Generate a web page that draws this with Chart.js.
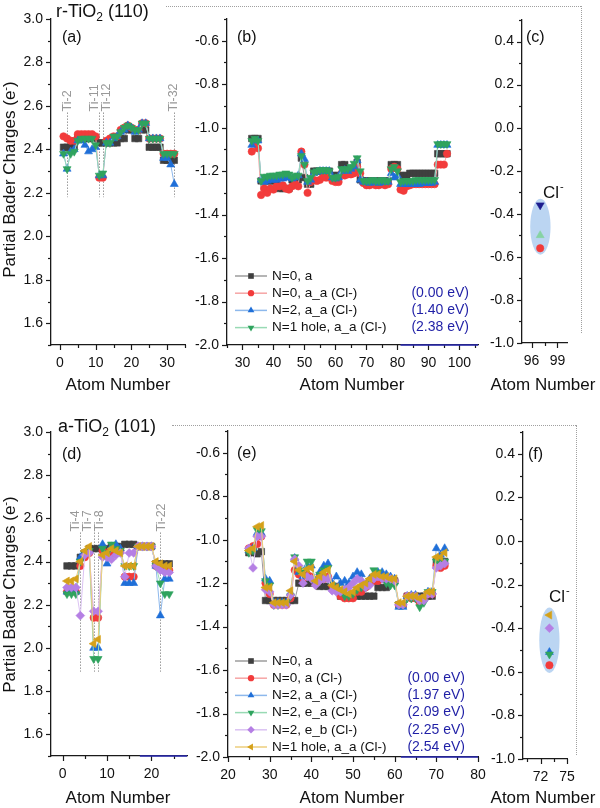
<!DOCTYPE html>
<html>
<head>
<meta charset="utf-8">
<script src="https://cdn.jsdelivr.net/npm/chart.js@4.4.1/dist/chart.umd.min.js"></script>
<style>
html,body{margin:0;padding:0;background:#fff;}
#page{position:relative;width:600px;height:808px;overflow:hidden;font-family:"Liberation Sans",Arial,Helvetica,sans-serif;color:#111;}
canvas.layer{position:absolute;left:0;top:0;}
.t{position:absolute;white-space:nowrap;line-height:1;}
.title{font-size:18px;}
.title sub{font-size:12px;vertical-align:-4px;line-height:0;}
.plab{font-size:16px;}
.xt{font-size:17px;width:160px;text-align:center;}
.yt{font-size:17px;width:280px;text-align:center;transform:rotate(-90deg);}
.yt sup{font-size:11px;vertical-align:6px;line-height:0;}
.hd{position:absolute;border-top:1px dotted #a0a0a0;height:0;}
.vd{position:absolute;border-left:1px dotted #a0a0a0;width:0;}
</style>
</head>
<body>
<div id="page">
<canvas class="layer" id="cA" width="600" height="808"></canvas>
<canvas class="layer" id="cB" width="600" height="808"></canvas>
<canvas class="layer" id="cC" width="600" height="808"></canvas>
<canvas class="layer" id="cD" width="600" height="808"></canvas>
<canvas class="layer" id="cE" width="600" height="808"></canvas>
<canvas class="layer" id="cF" width="600" height="808"></canvas>
<div class="t title" style="left:56px;top:2px;">r-TiO<sub>2</sub> (110)</div>
<div class="t title" style="left:58px;top:417px;">a-TiO<sub>2</sub> (101)</div>
<div class="hd" style="left:166px;top:6px;width:415px;"></div>
<div class="vd" style="left:581px;top:6px;height:327px;"></div>
<div class="hd" style="left:172px;top:425px;width:404px;"></div>
<div class="vd" style="left:576px;top:425px;height:330px;"></div>
<div class="t plab" style="left:62px;top:29px;">(a)</div>
<div class="t plab" style="left:237px;top:29px;">(b)</div>
<div class="t plab" style="left:526px;top:29px;">(c)</div>
<div class="t plab" style="left:62px;top:446px;">(d)</div>
<div class="t plab" style="left:237px;top:445px;">(e)</div>
<div class="t plab" style="left:528px;top:446px;">(f)</div>
<div class="t xt" style="left:38px;top:376px;">Atom Number</div>
<div class="t xt" style="left:272px;top:376px;">Atom Number</div>
<div class="t xt" style="left:463px;top:376px;">Atom Number</div>
<div class="t xt" style="left:38px;top:789px;">Atom Number</div>
<div class="t xt" style="left:272px;top:789px;">Atom Number</div>
<div class="t xt" style="left:463px;top:789px;">Atom Number</div>
<div class="t yt" style="left:-131px;top:171px;">Partial Bader Charges (e<sup>-</sup>)</div>
<div class="t yt" style="left:-131px;top:586px;">Partial Bader Charges (e<sup>-</sup>)</div>
</div>
<script>
// ---------------- DATA ----------------
// rutile r-TiO2 (110): Ti atoms 1-32, O atoms 33-96, Cl 97
const rTiAtoms = [1,2,3,4,5,6,7,8,9,10,11,12,13,14,15,16,17,18,19,20,21,22,23,24,25,26,27,28,29,30,31,32];
const rTi_N0_a    = [2.41,2.41,2.41,2.41,2.45,2.45,2.45,2.45,2.45,2.45,2.43,2.43,2.43,2.43,2.43,2.43,2.45,2.45,2.49,2.49,2.45,2.45,2.49,2.49,2.41,2.41,2.41,2.41,2.35,2.35,2.35,2.35];
const rTi_N0_aa   = [2.46,2.45,2.44,2.44,2.47,2.47,2.47,2.47,2.47,2.46,2.27,2.27,2.44,2.45,2.46,2.46,2.49,2.50,2.51,2.50,2.49,2.49,2.52,2.52,2.45,2.45,2.45,2.45,2.38,2.38,2.38,2.38];
const rTi_N2_aa   = [2.38,2.31,2.39,2.40,2.44,2.44,2.42,2.39,2.40,2.41,2.28,2.28,2.43,2.43,2.45,2.46,2.48,2.49,2.51,2.50,2.48,2.49,2.52,2.52,2.45,2.45,2.45,2.45,2.36,2.36,2.33,2.24];
const rTi_N1h_aa  = [2.38,2.31,2.38,2.39,2.44,2.45,2.45,2.45,2.45,2.42,2.28,2.29,2.43,2.43,2.46,2.46,2.48,2.50,2.51,2.50,2.49,2.49,2.52,2.52,2.45,2.45,2.45,2.45,2.38,2.38,2.38,2.38];

const rOAtoms = [33,34,35,36,37,38,39,40,41,42,43,44,45,46,47,48,49,50,51,52,53,54,55,56,57,58,59,60,61,62,63,64,65,66,67,68,69,70,71,72,73,74,75,76,77,78,79,80,81,82,83,84,85,86,87,88,89,90,91,92,93,94,95,96];
const rO_N0_a   = [-1.05,-1.05,-1.05,-1.245,-1.245,-1.245,-1.245,-1.245,-1.245,-1.28,-1.28,-1.28,-1.28,-1.24,-1.24,-1.24,-1.14,-1.23,-1.26,-1.26,-1.20,-1.20,-1.20,-1.20,-1.20,-1.20,-1.22,-1.22,-1.22,-1.17,-1.17,-1.20,-1.20,-1.20,-1.16,-1.24,-1.245,-1.245,-1.245,-1.245,-1.245,-1.245,-1.245,-1.245,-1.245,-1.17,-1.17,-1.17,-1.22,-1.22,-1.22,-1.21,-1.21,-1.21,-1.21,-1.21,-1.21,-1.21,-1.21,-1.21,-1.12,-1.12,-1.12,-1.12];
const rO_N0_aa  = [-1.11,-1.07,-1.095,-1.31,-1.28,-1.30,-1.28,-1.285,-1.27,-1.27,-1.265,-1.28,-1.285,-1.27,-1.26,-1.27,-1.11,-1.17,-1.30,-1.25,-1.24,-1.245,-1.24,-1.225,-1.23,-1.225,-1.245,-1.25,-1.25,-1.21,-1.22,-1.215,-1.215,-1.21,-1.18,-1.21,-1.255,-1.265,-1.265,-1.26,-1.265,-1.265,-1.26,-1.265,-1.26,-1.19,-1.18,-1.19,-1.285,-1.29,-1.27,-1.265,-1.26,-1.26,-1.26,-1.26,-1.26,-1.26,-1.26,-1.26,-1.17,-1.17,-1.17,-1.12];
const rO_N2_aa  = [-1.08,-1.06,-1.06,-1.24,-1.25,-1.245,-1.24,-1.24,-1.24,-1.235,-1.235,-1.23,-1.23,-1.235,-1.23,-1.22,-1.12,-1.145,-1.25,-1.24,-1.21,-1.205,-1.20,-1.20,-1.20,-1.20,-1.23,-1.235,-1.23,-1.20,-1.195,-1.20,-1.19,-1.18,-1.15,-1.24,-1.25,-1.25,-1.255,-1.25,-1.25,-1.255,-1.25,-1.25,-1.25,-1.21,-1.23,-1.22,-1.26,-1.26,-1.26,-1.26,-1.26,-1.26,-1.26,-1.255,-1.255,-1.255,-1.255,-1.25,-1.08,-1.08,-1.08,-1.08];
const rO_N1h_aa = [-1.06,-1.05,-1.06,-1.245,-1.225,-1.225,-1.22,-1.22,-1.22,-1.215,-1.215,-1.21,-1.215,-1.23,-1.22,-1.22,-1.13,-1.17,-1.245,-1.23,-1.205,-1.20,-1.195,-1.195,-1.195,-1.20,-1.23,-1.23,-1.225,-1.19,-1.19,-1.19,-1.18,-1.165,-1.14,-1.20,-1.245,-1.245,-1.245,-1.24,-1.245,-1.245,-1.24,-1.245,-1.245,-1.19,-1.18,-1.20,-1.25,-1.245,-1.245,-1.245,-1.245,-1.24,-1.24,-1.24,-1.24,-1.24,-1.24,-1.24,-1.075,-1.075,-1.075,-1.075];

const rClAtom = [97];
const rCl_N0_aa = [-0.56];
const rCl_N2_aa = [-0.50];
const rCl_N1h_aa = [-0.36];

// anatase a-TiO2 (101): Ti atoms 1-24, O atoms 25-72, Cl 73
const aTiAtoms = [1,2,3,4,5,6,7,8,9,10,11,12,13,14,15,16,17,18,19,20,21,22,23,24];
const aTi_N0_a    = [2.38,2.38,2.38,2.42,2.44,2.46,2.46,2.46,2.46,2.46,2.47,2.47,2.47,2.48,2.48,2.48,2.47,2.47,2.47,2.47,2.39,2.39,2.39,2.39];
const aTi_N0_Cl   = [2.26,2.26,2.26,2.38,2.42,2.44,2.14,2.14,2.45,2.44,2.43,2.44,2.45,2.33,2.33,2.33,2.47,2.47,2.47,2.47,2.38,2.37,2.36,2.36];
const aTi_N2_aa   = [2.26,2.26,2.26,2.42,2.44,2.45,2.00,2.00,2.48,2.39,2.47,2.48,2.46,2.30,2.30,2.30,2.47,2.47,2.47,2.47,2.38,2.15,2.32,2.32];
const aTi_N2_ea   = [2.25,2.25,2.25,2.40,2.44,2.45,1.95,1.95,2.46,2.44,2.48,2.46,2.45,2.38,2.38,2.38,2.47,2.47,2.47,2.47,2.38,2.30,2.25,2.25];
const aTi_N2_eb   = [2.28,2.28,2.28,2.15,2.43,2.44,2.17,2.17,2.42,2.42,2.41,2.43,2.44,2.33,2.44,2.44,2.47,2.47,2.47,2.47,2.38,2.36,2.35,2.35];
const aTi_N1h_aa  = [2.31,2.31,2.32,2.40,2.45,2.47,2.02,2.04,2.43,2.44,2.46,2.45,2.44,2.38,2.38,2.38,2.47,2.47,2.47,2.47,2.40,2.39,2.38,2.38];

const aOAtoms = [25,26,27,28,29,30,31,32,33,34,35,36,37,38,39,40,41,42,43,44,45,46,47,48,49,50,51,52,53,54,55,56,57,58,59,60,61,62,63,64,65,66,67,68,69,70,71,72];
const aO_N0_a   = [-1.06,-1.06,-1.065,-1.055,-1.28,-1.28,-1.28,-1.28,-1.28,-1.28,-1.28,-1.28,-1.20,-1.20,-1.20,-1.20,-1.20,-1.215,-1.215,-1.215,-1.215,-1.215,-1.26,-1.26,-1.26,-1.26,-1.26,-1.26,-1.26,-1.26,-1.26,-1.22,-1.22,-1.22,-1.19,-1.19,-1.30,-1.30,-1.26,-1.26,-1.26,-1.26,-1.26,-1.26,-1.26,-1.10,-1.10,-1.10];
const aO_N0_Cl  = [-1.04,-1.03,-1.02,-0.985,-1.20,-1.25,-1.30,-1.30,-1.30,-1.30,-1.27,-1.14,-1.16,-1.18,-1.16,-1.17,-1.20,-1.17,-1.18,-1.17,-1.21,-1.22,-1.26,-1.27,-1.27,-1.27,-1.24,-1.24,-1.22,-1.19,-1.19,-1.19,-1.18,-1.18,-1.19,-1.19,-1.30,-1.30,-1.26,-1.27,-1.27,-1.29,-1.27,-1.25,-1.25,-1.12,-1.13,-1.12];
const aO_N2_aa  = [-1.05,-1.04,-0.97,-0.97,-1.18,-1.19,-1.29,-1.29,-1.29,-1.29,-1.245,-1.085,-1.15,-1.17,-1.12,-1.12,-1.19,-1.15,-1.12,-1.11,-1.20,-1.17,-1.20,-1.19,-1.20,-1.17,-1.15,-1.16,-1.21,-1.18,-1.16,-1.15,-1.15,-1.16,-1.17,-1.18,-1.31,-1.31,-1.26,-1.255,-1.255,-1.27,-1.27,-1.24,-1.24,-1.04,-1.07,-1.04];
const aO_N2_ea  = [-1.06,-1.05,-0.955,-0.96,-1.19,-1.21,-1.30,-1.30,-1.29,-1.29,-1.26,-1.08,-1.14,-1.15,-1.10,-1.10,-1.19,-1.16,-1.14,-1.13,-1.21,-1.22,-1.24,-1.26,-1.26,-1.25,-1.23,-1.22,-1.22,-1.19,-1.14,-1.15,-1.17,-1.20,-1.21,-1.21,-1.30,-1.30,-1.27,-1.27,-1.27,-1.31,-1.29,-1.24,-1.24,-1.10,-1.10,-1.10];
const aO_N2_eb  = [-1.04,-1.13,-0.985,-0.985,-1.23,-1.24,-1.30,-1.30,-1.30,-1.30,-1.255,-1.09,-1.12,-1.20,-1.17,-1.18,-1.21,-1.19,-1.18,-1.18,-1.235,-1.24,-1.24,-1.23,-1.22,-1.20,-1.18,-1.19,-1.22,-1.21,-1.18,-1.17,-1.18,-1.18,-1.18,-1.19,-1.30,-1.30,-1.26,-1.26,-1.26,-1.28,-1.28,-1.25,-1.25,-1.13,-1.12,-1.11];
const aO_N1h_aa = [-1.05,-1.04,-0.94,-0.935,-1.22,-1.22,-1.29,-1.29,-1.29,-1.29,-1.235,-1.10,-1.14,-1.16,-1.135,-1.13,-1.19,-1.17,-1.15,-1.14,-1.21,-1.22,-1.23,-1.24,-1.25,-1.24,-1.22,-1.21,-1.20,-1.18,-1.16,-1.16,-1.17,-1.17,-1.18,-1.18,-1.29,-1.29,-1.26,-1.26,-1.26,-1.27,-1.26,-1.24,-1.24,-1.08,-1.08,-1.06];

const aClAtom = [73];
const aCl_N0_Cl = [-0.57];
const aCl_N2_aa = [-0.51];
const aCl_N2_ea = [-0.52];
const aCl_N2_eb = [-0.40];
const aCl_N1h_aa = [-0.34];

// ticks
const tiXTicksR = [0,10,20,30];        const tiXMinorR = [5,15,25,35];
const tiXTicksA = [0,10,20];           const tiXMinorA = [5,15,25];
const oXTicksR = [30,40,50,60,70,80,90,100]; const oXMinorR = [25,35,45,55,65,75,85,95,105];
const oXTicksA = [20,30,40,50,60,70,80];     const oXMinorA = [25,35,45,55,65,75];
const clXTicksR = [96,99];   const clXMinorR = [97.5];
const clXTicksA = [72,75];   const clXMinorA = [70.5,73.5];
const tiYTicks = [1.6,1.8,2.0,2.2,2.4,2.6,2.8,3.0];      const tiYMinor = [1.5,1.7,1.9,2.1,2.3,2.5,2.7,2.9];
const oYTicks = [-2.0,-1.8,-1.6,-1.4,-1.2,-1.0,-0.8,-0.6]; const oYMinor = [-1.9,-1.7,-1.5,-1.3,-1.1,-0.9,-0.7,-0.5];
const clYTicks = [-1.0,-0.8,-0.6,-0.4,-0.2,0.0,0.2,0.4];   const clYMinor = [-0.9,-0.7,-0.5,-0.3,-0.1,0.1,0.3,0.5];

// annotations
const rTiMarkAtoms = [2,11,12,32];
const rTiMarkNames = ['Ti-2','Ti-11','Ti-12','Ti-32'];
const aTiMarkAtoms = [4,7,8,22];
const aTiMarkNames = ['Ti-4','Ti-7','Ti-8','Ti-22'];

const rLegendNames = ['N=0, a','N=0, a_a (Cl-)','N=2, a_a (Cl-)','N=1 hole, a_a (Cl-)'];
const rEnergies = ['','(0.00 eV)','(1.40 eV)','(2.38 eV)'];
const aLegendNames = ['N=0, a','N=0, a (Cl-)','N=2, a_a (Cl-)','N=2, e_a (Cl-)','N=2, e_b (Cl-)','N=1 hole, a_a (Cl-)'];
const aEnergies = ['','(0.00 eV)','(1.97 eV)','(2.09 eV)','(2.25 eV)','(2.54 eV)'];

// ---------------- STYLE ----------------
const FONT = '"Liberation Sans", Arial, Helvetica, sans-serif';
Chart.defaults.font.family = FONT;
const ST = {
  k:  {shape:'rect', rot:0, r:4.6, marker:'#3f3f3f', line:'#9c9c9c'},
  r:  {shape:'circle', rot:0, r:3.7, marker:'#f23b3b', line:'#f6a5a5'},
  b:  {shape:'triangle', rot:0, r:4.6, marker:'#1f6fd8', line:'#8db8ec'},
  g:  {shape:'triangle', rot:180, r:4.6, marker:'#2fa35e', line:'#98dab4'},
  p:  {shape:'rectRot', rot:0, r:4.4, marker:'#b57fe4', line:'#dbc2f3'},
  o:  {shape:'triangle', rot:-90, r:4.6, marker:'#d5a11a', line:'#ecce7c'},
  gl: {shape:'triangle', rot:0, r:4.6, marker:'#86d3a4', line:'#b8e6c9'},
  nv: {shape:'triangle', rot:180, r:4.6, marker:'#1d1d8e', line:'#8888cc'}
};

function ds(xs, ys, st, order, label) {
  return {
    label: label, data: xs.map((x, i) => ({x: x, y: ys[i]})),
    showLine: true, borderColor: st.line, borderWidth: 1, tension: 0,
    pointStyle: st.shape, pointRotation: st.rot, pointRadius: st.r,
    pointBackgroundColor: st.marker, pointBorderColor: st.marker, pointBorderWidth: 0.6,
    order: order
  };
}

function mark(ctx, st, x, y, r) {
  ctx.save(); ctx.translate(x, y); ctx.rotate(st.rot * Math.PI / 180);
  ctx.fillStyle = st.marker; ctx.beginPath();
  if (st.shape === 'circle') ctx.arc(0, 0, r, 0, 2 * Math.PI);
  else if (st.shape === 'rect') { const s = r * 0.72; ctx.rect(-s, -s, 2 * s, 2 * s); }
  else if (st.shape === 'triangle') { ctx.moveTo(0, -r); ctx.lineTo(r * 0.866, r * 0.5); ctx.lineTo(-r * 0.866, r * 0.5); ctx.closePath(); }
  else if (st.shape === 'rectRot') { ctx.moveTo(0, -r); ctx.lineTo(r, 0); ctx.lineTo(0, r); ctx.lineTo(-r, 0); ctx.closePath(); }
  ctx.fill(); ctx.restore();
}

function tickPlugin(xs, ys) {
  return {
    id: 'axisTicks',
    afterDraw(chart) {
      const ctx = chart.ctx;
      ctx.save(); ctx.strokeStyle = '#1a1a1a'; ctx.lineWidth = 1.2;
      [[chart.scales.x, xs], [chart.scales.y, ys]].forEach(([s, spec]) => {
        [[spec.major, 5], [spec.minor, 3]].forEach(([vals, len]) => {
          vals.forEach(v => {
            const p = Math.round(s.getPixelForValue(v)) + 0.5;
            ctx.beginPath();
            if (s.isHorizontal()) { ctx.moveTo(p, s.top); ctx.lineTo(p, s.top + len); }
            else { ctx.moveTo(s.right, p); ctx.lineTo(s.right - len, p); }
            ctx.stroke();
          });
        });
      });
      ctx.restore();
    }
  };
}

function panel(id, box, xs, ys, datasets, extra) {
  const fmtY = v => Number(v).toFixed(1);
  const fmtX = v => String(Math.round(v));
  return new Chart(document.getElementById(id), {
    type: 'line',
    data: { datasets: datasets },
    options: {
      responsive: false, animation: false, events: [],
      layout: { autoPadding: false, padding: { left: box.l - 50, top: box.t, right: 600 - box.r, bottom: 808 - box.b - 30 } },
      plugins: { legend: { display: false }, tooltip: { enabled: false } },
      scales: {
        x: {
          type: 'linear', min: xs.min, max: xs.max,
          grid: { display: false, drawTicks: false },
          border: { display: true, color: '#1a1a1a', width: 1.3 },
          afterFit: s => { s.height = 30; },
          afterBuildTicks: s => { s.ticks = xs.major.map(v => ({ value: v })); },
          ticks: { autoSkip: false, maxRotation: 0, padding: 10, color: '#111', font: { family: FONT, size: 14 }, callback: fmtX }
        },
        y: {
          type: 'linear', min: ys.min, max: ys.max,
          grid: { display: false, drawTicks: false },
          border: { display: true, color: '#1a1a1a', width: 1.3 },
          afterFit: s => { s.width = 50; },
          afterBuildTicks: s => { s.ticks = ys.major.map(v => ({ value: v })); },
          ticks: { autoSkip: false, padding: 8, color: '#111', font: { family: FONT, size: 14 }, callback: fmtY }
        }
      }
    },
    plugins: [tickPlugin(xs, ys), {
      id: 'extra',
      beforeDatasetsDraw(c) { if (extra && extra.before) extra.before(c); },
      afterDraw(c) { if (extra && extra.after) extra.after(c); }
    }]
  });
}

function tiMarks(chart, atoms, names, dxs, vTop, vBot) {
  const ctx = chart.ctx, x = chart.scales.x, y = chart.scales.y;
  ctx.save();
  ctx.strokeStyle = '#9a9a9a'; ctx.lineWidth = 1; ctx.setLineDash([1.5, 1.5]);
  atoms.forEach(a => {
    const px = Math.round(x.getPixelForValue(a)) + 0.5;
    ctx.beginPath(); ctx.moveTo(px, y.getPixelForValue(vTop)); ctx.lineTo(px, y.getPixelForValue(vBot)); ctx.stroke();
  });
  ctx.setLineDash([]);
  ctx.fillStyle = '#999'; ctx.font = '12.5px ' + FONT; ctx.textBaseline = 'middle'; ctx.textAlign = 'left';
  atoms.forEach((a, i) => {
    ctx.save(); ctx.translate(x.getPixelForValue(a) + dxs[i], y.getPixelForValue(vTop) - 1); ctx.rotate(-Math.PI / 2);
    ctx.fillText(names[i], 0, 0); ctx.restore();
  });
  ctx.restore();
}

function legend(ctx, names, energies, styles, x0, y0, dy, eRight) {
  names.forEach((n, i) => {
    const y = y0 + i * dy, st = styles[i];
    ctx.save();
    ctx.strokeStyle = st.line; ctx.lineWidth = 1.5;
    ctx.beginPath(); ctx.moveTo(x0, y); ctx.lineTo(x0 + 32, y); ctx.stroke();
    mark(ctx, st, x0 + 16, y, st.r * 0.85);
    ctx.fillStyle = '#111'; ctx.font = '13.5px ' + FONT; ctx.textAlign = 'left'; ctx.textBaseline = 'middle';
    ctx.fillText(n, x0 + 37, y);
    if (energies[i]) { ctx.fillStyle = '#1f1fa6'; ctx.font = '14px ' + FONT; ctx.textAlign = 'right'; ctx.fillText(energies[i], eRight, y); }
    ctx.restore();
  });
}

function blueAxis(chart, fromVal) {
  const ctx = chart.ctx, x = chart.scales.x, a = chart.chartArea;
  ctx.save(); ctx.strokeStyle = '#2a2ab5'; ctx.lineWidth = 1.3;
  ctx.beginPath(); ctx.moveTo(x.getPixelForValue(fromVal), a.bottom); ctx.lineTo(a.right, a.bottom); ctx.stroke();
  ctx.restore();
}

function ellipse(chart, xr, yr) {
  const ctx = chart.ctx, x = chart.scales.x, y = chart.scales.y;
  const x1 = x.getPixelForValue(xr[0]), x2 = x.getPixelForValue(xr[1]);
  const y1 = y.getPixelForValue(yr[0]), y2 = y.getPixelForValue(yr[1]);
  ctx.save(); ctx.fillStyle = 'rgba(150,190,235,0.65)';
  ctx.beginPath(); ctx.ellipse((x1 + x2) / 2, (y1 + y2) / 2, Math.abs(x2 - x1) / 2, Math.abs(y2 - y1) / 2, 0, 0, 2 * Math.PI); ctx.fill();
  ctx.restore();
}

function clLabel(ctx, x, y) {
  ctx.save(); ctx.fillStyle = '#111'; ctx.textBaseline = 'middle'; ctx.textAlign = 'left';
  ctx.font = '17px ' + FONT; ctx.fillText('Cl', x, y);
  const w = ctx.measureText('Cl').width;
  ctx.font = '11px ' + FONT; ctx.fillText('-', x + w + 1, y - 6);
  ctx.restore();
}

// ---------------- PANELS ----------------
// (a)
panel('cA', {l:51, t:19, r:185, b:345},
  {min:-2.5, max:35, major:tiXTicksR, minor:tiXMinorR},
  {min:1.5, max:3.0, major:tiYTicks, minor:tiYMinor},
  [ds(rTiAtoms, rTi_N0_a, ST.k, 4, 'N=0, a'), ds(rTiAtoms, rTi_N0_aa, ST.r, 3, 'N=0, a_a (Cl-)'),
   ds(rTiAtoms, rTi_N2_aa, ST.b, 2, 'N=2, a_a (Cl-)'), ds(rTiAtoms, rTi_N1h_aa, ST.g, 1, 'N=1 hole, a_a (Cl-)')],
  { before: c => tiMarks(c, rTiMarkAtoms, rTiMarkNames, [0, -5, 3.5, -1], 2.57, 2.18) });

// (b)
panel('cB', {l:227, t:19, r:478, b:345},
  {min:25, max:106, major:oXTicksR, minor:oXMinorR},
  {min:-2.0, max:-0.5, major:oYTicks, minor:oYMinor},
  [ds(rOAtoms, rO_N0_a, ST.k, 4), ds(rOAtoms, rO_N0_aa, ST.r, 3), ds(rOAtoms, rO_N2_aa, ST.b, 2), ds(rOAtoms, rO_N1h_aa, ST.g, 1)],
  { after: c => { blueAxis(c, 81); legend(c.ctx, rLegendNames, rEnergies, [ST.k, ST.r, ST.b, ST.g], 235, 276, 17.2, 469); } });

// (c)
panel('cC', {l:522, t:20, r:567, b:343},
  {min:94.9, max:100.1, major:clXTicksR, minor:clXMinorR},
  {min:-1.0, max:0.5, major:clYTicks, minor:clYMinor},
  [ds(rClAtom, rCl_N0_aa, ST.r, 3), ds(rClAtom, rCl_N2_aa, ST.gl, 2), ds(rClAtom, rCl_N1h_aa, ST.nv, 1)],
  { before: c => ellipse(c, [95.85, 98.2], [-0.33, -0.59]), after: c => clLabel(c.ctx, 543, 193) });

// (d)
panel('cD', {l:51, t:432, r:187, b:756},
  {min:-2.6, max:28, major:tiXTicksA, minor:tiXMinorA},
  {min:1.5, max:3.0, major:tiYTicks, minor:tiYMinor},
  [ds(aTiAtoms, aTi_N0_a, ST.k, 6), ds(aTiAtoms, aTi_N0_Cl, ST.r, 5), ds(aTiAtoms, aTi_N2_aa, ST.b, 4),
   ds(aTiAtoms, aTi_N2_ea, ST.g, 3), ds(aTiAtoms, aTi_N2_eb, ST.p, 2), ds(aTiAtoms, aTi_N1h_aa, ST.o, 1)],
  { before: c => tiMarks(c, aTiMarkAtoms, aTiMarkNames, [-5, -6.5, 1.7, 1], 2.535, 1.89), after: c => blueAxis(c, 17.4) });

// (e)
panel('cE', {l:228, t:431, r:478, b:757},
  {min:20, max:80, major:oXTicksA, minor:oXMinorA},
  {min:-2.0, max:-0.5, major:oYTicks, minor:oYMinor},
  [ds(aOAtoms, aO_N0_a, ST.k, 6), ds(aOAtoms, aO_N0_Cl, ST.r, 5), ds(aOAtoms, aO_N2_aa, ST.b, 4),
   ds(aOAtoms, aO_N2_ea, ST.g, 3), ds(aOAtoms, aO_N2_eb, ST.p, 2), ds(aOAtoms, aO_N1h_aa, ST.o, 1)],
  { after: c => { blueAxis(c, 61.5); legend(c.ctx, aLegendNames, aEnergies, [ST.k, ST.r, ST.b, ST.g, ST.p, ST.o], 235, 661, 17.2, 465); } });

// (f)
panel('cF', {l:523, t:432, r:567, b:759},
  {min:70, max:75, major:clXTicksA, minor:clXMinorA},
  {min:-1.0, max:0.5, major:clYTicks, minor:clYMinor},
  [ds(aClAtom, aCl_N0_Cl, ST.r, 5), ds(aClAtom, aCl_N2_aa, ST.b, 4), ds(aClAtom, aCl_N2_ea, ST.g, 3),
   ds(aClAtom, aCl_N2_eb, ST.p, 2), ds(aClAtom, aCl_N1h_aa, ST.o, 1)],
  { before: c => ellipse(c, [71.85, 74.15], [-0.305, -0.605]), after: c => clLabel(c.ctx, 549, 597) });
</script>
</body>
</html>
